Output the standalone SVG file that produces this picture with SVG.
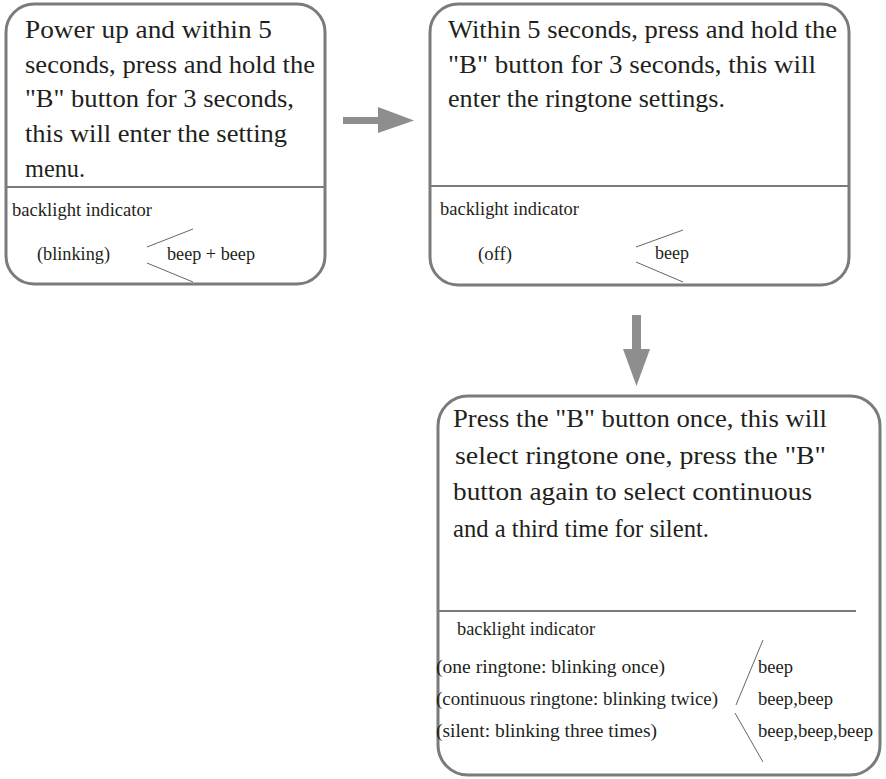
<svg xmlns="http://www.w3.org/2000/svg" width="886" height="779" viewBox="0 0 886 779">
<style>
.box{fill:#fff;stroke:#7b7b7b;stroke-width:3}
.div{stroke:#7b7b7b;stroke-width:2}
.chev{stroke:#666;stroke-width:1;fill:none}
text{font-family:"Liberation Serif","Times New Roman",Times,serif;fill:#231f20}
.big{font-size:26px}
.sm{font-size:18.5px}
.arr{fill:#8e8e8e}
</style>
<rect width="886" height="779" fill="#fff"/>
<g id="node1">
<rect class="box" x="6" y="4" width="319" height="280" rx="28"/>
<line class="div" x1="6" y1="187" x2="325" y2="187"/>
<text class="big" x="25" y="38" textLength="247" lengthAdjust="spacingAndGlyphs">Power up and  within 5</text>
<text class="big" x="25" y="73" textLength="290" lengthAdjust="spacingAndGlyphs">seconds, press and hold the</text>
<text class="big" x="25" y="107" textLength="269" lengthAdjust="spacingAndGlyphs">"B" button for 3 seconds,</text>
<text class="big" x="25" y="142" textLength="262" lengthAdjust="spacingAndGlyphs">this will enter the setting</text>
<text class="big" x="25" y="177" textLength="60" lengthAdjust="spacingAndGlyphs">menu.</text>
<text class="sm" x="12" y="216" textLength="140" lengthAdjust="spacingAndGlyphs">backlight indicator</text>
<text class="sm" x="37" y="260" textLength="73" lengthAdjust="spacingAndGlyphs">(blinking)</text>
<text class="sm" x="167" y="260" textLength="88" lengthAdjust="spacingAndGlyphs">beep + beep</text>
<polyline class="chev" points="193,229 147,247"/>
<polyline class="chev" points="147,263 193,282"/>
</g>
<g id="node2">
<rect class="box" x="430" y="4" width="419" height="281" rx="28"/>
<line class="div" x1="430" y1="186" x2="849" y2="186"/>
<text class="big" x="448" y="38" textLength="389" lengthAdjust="spacingAndGlyphs">Within 5 seconds, press and hold the</text>
<text class="big" x="448" y="73" textLength="368" lengthAdjust="spacingAndGlyphs">"B" button for 3 seconds, this  will</text>
<text class="big" x="448" y="107" textLength="277" lengthAdjust="spacingAndGlyphs">enter the ringtone settings.</text>
<text class="sm" x="440" y="215" textLength="139" lengthAdjust="spacingAndGlyphs">backlight indicator</text>
<text class="sm" x="478" y="260" textLength="34" lengthAdjust="spacingAndGlyphs">(off)</text>
<text class="sm" x="655" y="259" textLength="34" lengthAdjust="spacingAndGlyphs">beep</text>
<polyline class="chev" points="683,230 636,247"/>
<polyline class="chev" points="636,262 683,282"/>
</g>
<g id="node3">
<rect class="box" x="438" y="396" width="442" height="379" rx="30"/>
<line class="div" x1="438" y1="611" x2="856" y2="611"/>
<text class="big" x="453" y="427" textLength="374" lengthAdjust="spacingAndGlyphs">Press the "B" button once, this will</text>
<text class="big" x="455" y="464" textLength="371" lengthAdjust="spacingAndGlyphs">select ringtone one,  press the "B"</text>
<text class="big" x="453" y="500" textLength="359" lengthAdjust="spacingAndGlyphs">button again to select continuous</text>
<text class="big" x="453" y="537" textLength="256" lengthAdjust="spacingAndGlyphs">and a third time for silent.</text>
<text class="sm" x="457" y="635" textLength="138" lengthAdjust="spacingAndGlyphs">backlight indicator</text>
<text class="sm" x="436" y="673" textLength="229" lengthAdjust="spacingAndGlyphs">(one ringtone: blinking once)</text>
<text class="sm" x="436" y="705" textLength="282" lengthAdjust="spacingAndGlyphs">(continuous ringtone: blinking twice)</text>
<text class="sm" x="436" y="737" textLength="221" lengthAdjust="spacingAndGlyphs">(silent: blinking three times)</text>
<text class="sm" x="758" y="673" textLength="35" lengthAdjust="spacingAndGlyphs">beep</text>
<text class="sm" x="758" y="705" textLength="75" lengthAdjust="spacingAndGlyphs">beep,beep</text>
<text class="sm" x="758" y="737" textLength="115" lengthAdjust="spacingAndGlyphs">beep,beep,beep</text>
<polyline class="chev" points="763,640 736,705"/>
<polyline class="chev" points="735,713 763,762"/>
</g>
<g id="connectors">
<polygon class="arr" points="343,117 378,117 378,107 414,120.5 378,133 378,124 343,124"/>
<polygon class="arr" points="632,315 641,315 641,349 650,349 636.5,386 623,349 632,349"/>
</g>
</svg>
